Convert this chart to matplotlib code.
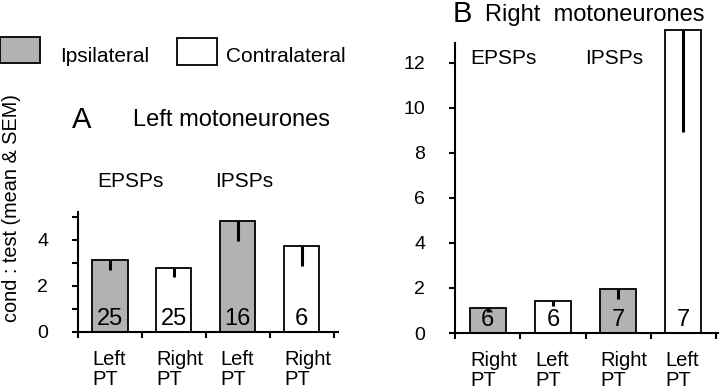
import matplotlib.pyplot as plt

plt.rcParams['font.family'] = ['Liberation Sans', 'DejaVu Sans']

# Panel A: left motoneurones
a_labels = ["Left\nPT", "Right\nPT", "Left\nPT", "Right\nPT"]
a_means = [3.1, 2.78, 4.83, 3.74]
a_sem = [0.4, 0.39, 0.87, 0.87]
a_n = ["25", "25", "16", "6"]
a_side = ["ipsi", "contra", "ipsi", "contra"]

# Panel B: right motoneurones
b_labels = ["Right\nPT", "Left\nPT", "Right\nPT", "Left\nPT"]
b_means = [1.13, 1.43, 1.97, 13.47]
b_sem = [0.18, 0.23, 0.47, 4.55]
b_n = ["6", "6", "7", "7"]
b_side = ["ipsi", "contra", "ipsi", "contra"]

GRAY = '#b2b2b2'
W, H = 720, 392


def px_axes(fig, x0, y_bottom, x1, y_top):
    return fig.add_axes([x0 / W, 1 - y_bottom / H, (x1 - x0) / W, (y_bottom - y_top) / H])


def draw_panel(ax, labels, means, sem, ns, side):
    pos = [i + 0.5 for i in range(len(means))]
    colors = [GRAY if s == "ipsi" else 'white' for s in side]
    ax.bar(pos, means, width=0.55, color=colors, edgecolor='black',
           linewidth=1.3, clip_on=False, zorder=2)
    ax.errorbar(pos, means, yerr=[sem, [0] * len(sem)], fmt='none',
                ecolor='black', elinewidth=2.2, capsize=0, zorder=3)
    for p, n in zip(pos, ns):
        ax.annotate(n, (p, 0), xycoords=ax.get_xaxis_transform(),
                    xytext=(0, 2), textcoords='offset pixels',
                    ha='center', va='bottom', fontsize=17, zorder=4)
    # category labels start at the left edge of each bar
    for p, lab in zip(pos, labels):
        ax.annotate(lab, (p - 0.27, 0), xycoords=ax.get_xaxis_transform(),
                    xytext=(0, -18), textcoords='offset pixels',
                    ha='left', va='top', fontsize=14.5, linespacing=1.08,
                    annotation_clip=False)
    for s in ['top', 'right']:
        ax.spines[s].set_visible(False)
    for s in ['left', 'bottom']:
        ax.spines[s].set_linewidth(1.5)
    ax.set_xticks(range(len(means) + 1))
    ax.set_xticklabels([])
    ax.tick_params(axis='x', length=4, width=1.5, direction='out')
    ax.tick_params(axis='y', length=4.5, width=1.5, labelsize=14, pad=17)
    ax.patch.set_alpha(0)


fig = plt.figure(figsize=(7.2, 3.92), dpi=100)

# panel A
axA = px_axes(fig, 78, 332, 338, 212)
draw_panel(axA, a_labels, a_means, a_sem, a_n, a_side)
axA.set_xlim(0, 4.07)
axA.set_ylim(0, 5.2)
axA.set_yticks([0, 1, 2, 3, 4, 5])
axA.set_yticklabels(['0', '', '2', '', '4', ''])

# panel B
axB = px_axes(fig, 455, 333, 718, 29)
draw_panel(axB, b_labels, b_means, b_sem, b_n, b_side)
axB.set_xlim(0, 4.03)
axB.set_ylim(0, 13.5)
axB.spines['left'].set_bounds(0, 12.9)
axB.set_yticks([0, 2, 4, 6, 8, 10, 12])

# y label
fig.text(12 / W, 1 - 208 / H, "cond : test (mean & SEM)", rotation=90,
         ha='center', va='center', fontsize=14.3)

# legend
fig.patches.append(plt.Rectangle((0 / W, 1 - 63 / H), 40 / W, 26 / H,
                                 transform=fig.transFigure, facecolor=GRAY,
                                 edgecolor='black', linewidth=1.3))
fig.patches.append(plt.Rectangle((177 / W, 1 - 65 / H), 40 / W, 27 / H,
                                 transform=fig.transFigure, facecolor='white',
                                 edgecolor='black', linewidth=1.3))
fig.text(60 / W, 1 - 57 / H, "Ipsilateral", ha='left', va='center', fontsize=15)
fig.text(226 / W, 1 - 57 / H, "Contralateral", ha='left', va='center', fontsize=15)

# titles
fig.text(72 / W, 1 - 120 / H, "A", ha='left', va='center', fontsize=21)
fig.text(133 / W, 1 - 120 / H, "Left motoneurones", ha='left', va='center', fontsize=17)
fig.text(97 / W, 1 - 181 / H, "EPSPs", ha='left', va='center', fontsize=15)
fig.text(215 / W, 1 - 181 / H, "IPSPs", ha='left', va='center', fontsize=15)

fig.text(453 / W, 1 - 14 / H, "B", ha='left', va='center', fontsize=21)
fig.text(485 / W, 1 - 15 / H, "Right  motoneurones", ha='left', va='center', fontsize=17)
fig.text(470 / W, 1 - 58 / H, "EPSPs", ha='left', va='center', fontsize=15)
fig.text(585 / W, 1 - 58 / H, "IPSPs", ha='left', va='center', fontsize=15)

fig.savefig('out.png', dpi=100)
